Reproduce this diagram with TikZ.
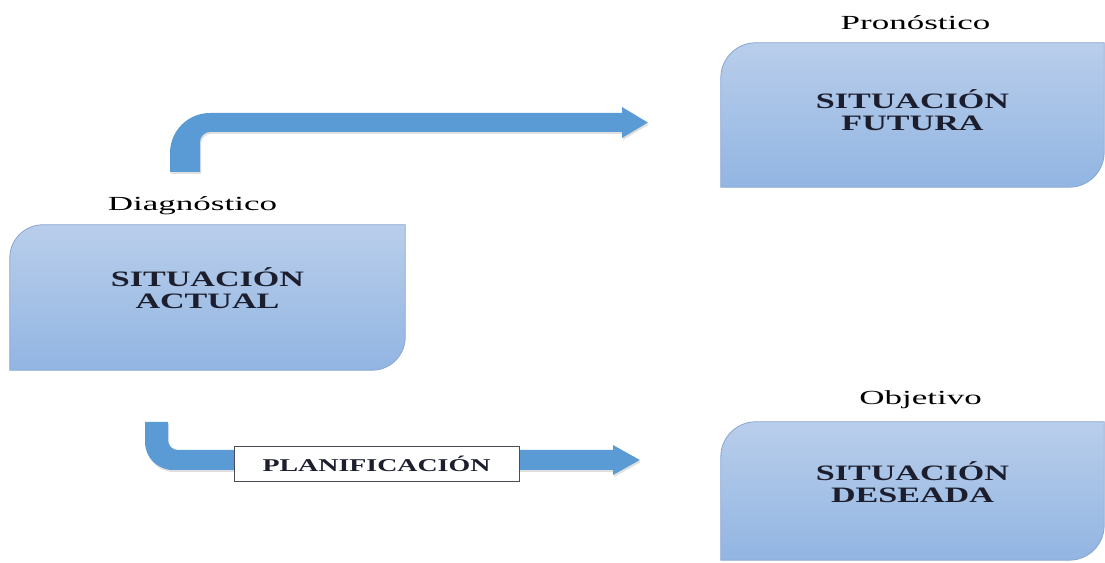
\documentclass[tikz,border=0pt]{standalone}
\usepackage{fontspec}
\usetikzlibrary{positioning,shadows}
\newfontfamily\lblfont[FakeStretch=1.75]{Liberation Serif}
\newfontfamily\boxfont[FakeStretch=1.55]{Liberation Serif}
\definecolor{boxtop}{RGB}{185,206,235}
\definecolor{boxbot}{RGB}{146,181,226}
\definecolor{boxline}{RGB}{135,165,210}
\definecolor{arrowblue}{RGB}{91,155,213}
\definecolor{textnavy}{RGB}{28,30,45}
\tikzset{%
  sitbox/.style   = {shape=rectangle, inner sep=0pt, align=center,%
                     text=textnavy, font=\boxfont\bfseries\fontsize{22}{22}\selectfont},%
  sitshape/.style = {draw=boxline, line width=0.8pt,%
                     top color=boxtop, bottom color=boxbot},%
  tag/.style      = {font=\lblfont\fontsize{20}{20}\selectfont, text=black},%
  bent/.style     = {fill=arrowblue, draw=none,%
                     drop shadow={shadow xshift=1pt, shadow yshift=-2pt, opacity=0.25}},%
  plan/.style     = {draw=textnavy!80, line width=0.8pt, fill=white,%
                     minimum width=285pt, minimum height=35pt, text=textnavy,%
                     font=\boxfont\bfseries\fontsize{18}{18}\selectfont}%
}
% box with rounded top-left and bottom-right corners
\newcommand{\sitfill}[2]{%
  \path[sitshape] (#1.south west) -- ([yshift=-#2]#1.north west)
    arc[start angle=180, end angle=90, radius=#2] -- (#1.north east)
    -- ([yshift=#2]#1.south east)
    arc[start angle=0, end angle=-90, radius=#2] -- cycle;}

\begin{document}
\begin{tikzpicture}[x=1pt,y=1pt]
	\useasboundingbox (0,0) rectangle (1105,562);
	% boxes
	\node[sitbox, minimum width=395pt, minimum height=145pt] (actual) at (207.5,264.5) {};
	\node[sitbox, minimum width=383pt, minimum height=144pt] (futura) at (912.5,447) {};
	\node[sitbox, minimum width=383pt, minimum height=138pt] (deseada) at (912.5,71) {};
	\sitfill{actual}{33pt}
	\sitfill{futura}{35pt}
	\sitfill{deseada}{35pt}
	\node[sitbox] at ([yshift=9pt]actual.center) {SITUACIÓN\\ACTUAL};
	\node[sitbox] at ([yshift=5pt]futura.center) {SITUACIÓN\\FUTURA};
	\node[sitbox] at ([yshift=9pt]deseada.center) {SITUACIÓN\\DESEADA};
	% labels
	\node[tag, above=6pt of actual.north, xshift=-15pt] (diag) {Diagnóstico};
	\node[tag, above=10pt of futura.north, xshift=3pt] (pron) {Pronóstico};
	\node[tag, above=10pt of deseada.north, xshift=8pt] (obj) {Objetivo};
	% arrows
	\coordinate (up) at (185,390);
	\coordinate (down) at (156.5,140);
	\fill[bent] ([xshift=-15pt]up) -- ++(0,19) arc[start angle=180, end angle=90, radius=40]
		-- (622,449) -- (622,455) -- ([xshift=-73pt]futura.west |- 0,439.5) -- (622,424) -- (622,430)
		-- (210,430) arc[start angle=90, end angle=180, radius=10] -- ([xshift=15pt]up) -- cycle;
	\fill[bent] ([xshift=-11.5pt]down) -- ++(0,-20) arc[start angle=180, end angle=270, radius=28]
		-- (613,92) -- (613,87) -- ([xshift=-81pt]deseada.west |- 0,102) -- (613,117) -- (613,112)
		-- (178,112) arc[start angle=270, end angle=180, radius=10] -- ([xshift=11.5pt]down) -- cycle;
	\node[plan] (planif) at (376.5,98.5) {PLANIFICACIÓN};
\end{tikzpicture}
\end{document}
